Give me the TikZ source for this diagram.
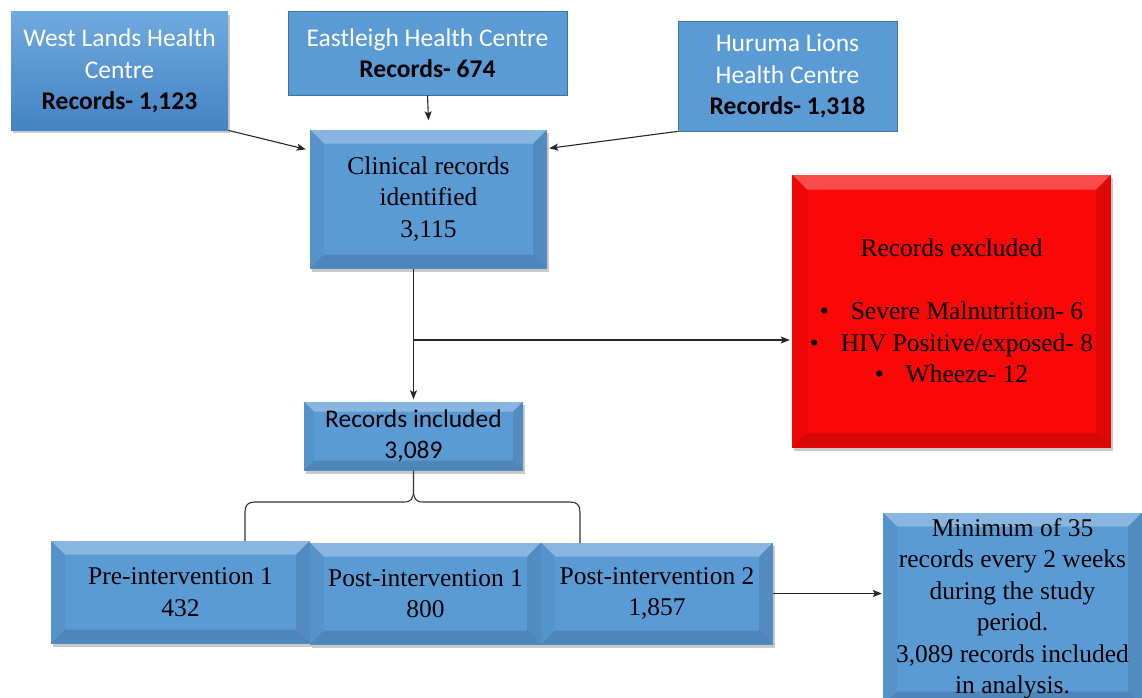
\documentclass[tikz,border=0pt]{standalone}
\usepackage{fontspec}
\setmainfont{Liberation Serif}
\newfontfamily\calibri{Carlito}
\usetikzlibrary{arrows.meta,shadows,calc}
\definecolor{blu}{RGB}{91,155,213}
\definecolor{bluedge}{RGB}{65,113,156}
\definecolor{blutop}{RGB}{111,169,222}
\definecolor{blubot}{RGB}{68,131,196}
\definecolor{redb}{RGB}{250,8,8}
\tikzset{
  sansfont/.style={font=\calibri\fontsize{25.5}{31.5}\selectfont},
  seriffont/.style={font=\fontsize{25.5}{31.5}\selectfont},
  src/.style={fill=blu, draw=bluedge, line width=0.8pt, align=center, sansfont, text=white, inner sep=0pt},
  shad/.style={drop shadow={shadow xshift=2pt, shadow yshift=-3pt, opacity=.3, fill=black!70}},
  bev/.style={path picture={
    \path (path picture bounding box.north west) coordinate (pA)
          (path picture bounding box.north east) coordinate (pB)
          (path picture bounding box.south east) coordinate (pC)
          (path picture bounding box.south west) coordinate (pD);
    \fill[white,opacity=.28] (pA) -- (pB) -- ([shift={(-#1,-#1)}]pB) -- ([shift={(#1,-#1)}]pA) -- cycle;
    \fill[black,opacity=.10] (pB) -- (pC) -- ([shift={(-#1,#1)}]pC) -- ([shift={(-#1,-#1)}]pB) -- cycle;
    \fill[black,opacity=.13] (pC) -- (pD) -- ([shift={(#1,#1)}]pD) -- ([shift={(-#1,#1)}]pC) -- cycle;
    \fill[black,opacity=.05] (pD) -- (pA) -- ([shift={(#1,-#1)}]pA) -- ([shift={(#1,#1)}]pD) -- cycle;
  }},
  bevbox/.style={fill=blu, align=center, inner sep=0pt, seriffont, text=black, shad, bev=14pt},
  arr/.style={-{Stealth[length=9pt,width=7pt,inset=2pt]}, line width=1.1pt, draw=black!85},
  ln/.style={line width=1.1pt, draw=black!80}
}
\begin{document}
\begin{tikzpicture}[x=1pt,y=-1pt]
\path[use as bounding box, clip] (0,0) rectangle (1142,698);

% source boxes
\node[src, draw=none, top color=blutop, bottom color=blubot, shad, minimum width=217pt, minimum height=118pt] (west) at (119.5,71)
  {West Lands Health\\Centre\\{\color{black}\bfseries Records- 1,123}};
\node[src, minimum width=279pt, minimum height=84pt] (east) at (427.5,53)
  {Eastleigh Health Centre\\{\color{black}\bfseries Records- 674}};
\node[src, minimum width=219pt, minimum height=110pt] (hur) at (787.5,76)
  {Huruma Lions\\Health Centre\\{\color{black}\bfseries Records- 1,318}};

% process boxes
\node[bevbox, minimum width=237pt, minimum height=139pt] (clin) at (428.5,199)
  {Clinical records\\identified\\3,115};
\node[bevbox, fill=redb, minimum width=319pt, minimum height=273pt, bev=15pt] (excl) at (951.5,311)
  {Records excluded\\\mbox{}\\\textbullet\hspace{22pt}Severe Malnutrition- 6\\\textbullet\hspace{22pt}HIV Positive/exposed- 8\\\textbullet\hspace{22pt}Wheeze- 12};
\node[bevbox, sansfont, minimum width=219pt, minimum height=69pt, bev=10pt] (incl) at (413.5,436)
  {Records included\\3,089};
\node[bevbox, minimum width=259pt, minimum height=103pt] (pre) at (180.5,592)
  {Pre-intervention 1\\432};
\node[bevbox, minimum width=231pt, minimum height=102pt] (post1) at (425.5,593.5)
  {Post-intervention 1\\800};
\node[bevbox, minimum width=232pt, minimum height=102pt] (post2) at (657,593.5)
  {Post-intervention 2\\1,857};
\node[bevbox, minimum width=259pt, minimum height=193pt] (minb) at (1012.5,609)
  {Minimum of 35\\records every 2 weeks\\during the study\\period.\\3,089 records included\\in analysis.};

% connectors
\draw[arr] (west.south east) -- ([xshift=-4pt,yshift=-20pt]clin.north west);
\draw[arr] (east.south) -- ([yshift=9pt]clin.north);
\draw[arr] (hur.south west) -- ([xshift=2pt,yshift=-19pt]clin.north east);
\draw[arr, shorten >=2pt] (incl.north |- clin.south) -- (incl.north);
\coordinate (br) at (413.5,340);
\draw[arr, shorten >=2pt] (br) -- (excl.west |- br);
\draw[arr, shorten >=1pt] (post2.east) -- (minb.west |- post2.east);

% brace
\coordinate (bl) at (245,541);
\coordinate (brr) at (580,543);
\draw[ln] (incl.south) -- (413.5,490) .. controls (413.5,499) and (411,502) .. (404,502)
  -- (255,502) .. controls (248,502) and (245,505) .. (245,512) -- (bl);
\draw[ln] (413.5,490) .. controls (413.5,499) and (416,502) .. (423,502)
  -- (570,502) .. controls (577,502) and (580,505) .. (580,512) -- (brr);
\end{tikzpicture}
\end{document}
